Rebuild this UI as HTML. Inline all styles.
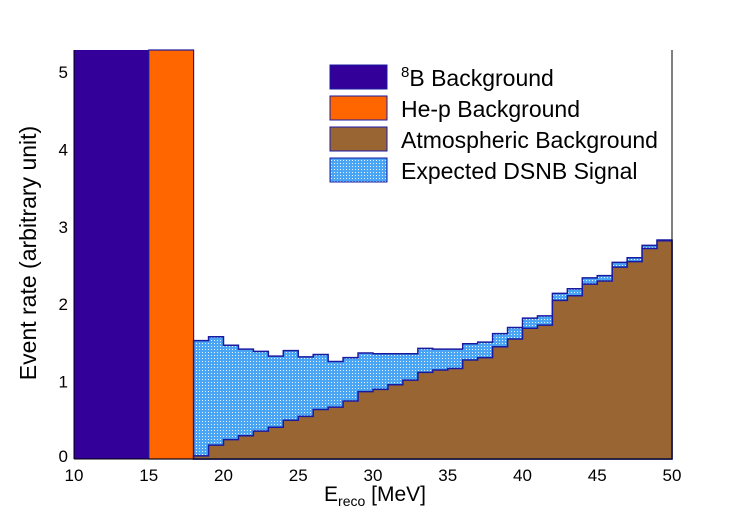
<!DOCTYPE html>
<html><head><meta charset="utf-8"><style>
body{margin:0;background:#fff;}
svg text{font-family:"Liberation Sans",sans-serif;}
</style></head><body>
<svg id="c" width="747" height="510">
<defs>
<pattern id="dots" width="3" height="3" patternUnits="userSpaceOnUse">
<rect width="3" height="3" fill="#4aa6f5"/><rect x="1" y="1" width="1" height="1" fill="#e8f4ff"/>
</pattern>
</defs>
</svg>
<script>
const binStart=18;
const signalTop=[1.53,1.58,1.47,1.42,1.39,1.33,1.40,1.32,1.35,1.26,1.31,1.37,1.36,1.36,1.36,1.43,1.42,1.42,1.49,1.51,1.62,1.70,1.82,1.85,2.14,2.20,2.34,2.37,2.54,2.60,2.76,2.83];
const atmos=[0.04,0.18,0.25,0.30,0.36,0.41,0.50,0.55,0.64,0.67,0.75,0.87,0.90,0.96,1.02,1.12,1.15,1.17,1.28,1.31,1.45,1.55,1.69,1.73,2.05,2.11,2.26,2.30,2.48,2.55,2.72,2.82];
const xTicks=[10,15,20,25,30,35,40,45,50];
const yTicks=[0,1,2,3,4,5];
const legendLabels=["B Background","He-p Background","Atmospheric Background","Expected DSNB Signal"];
const X0=74,X1=672,Y0=459,YT=50,xmin=10,xmax=50,ymax=5.285;
const sx=v=>X0+(v-xmin)/(xmax-xmin)*(X1-X0);
const sy=v=>Y0-v/ymax*(Y0-YT);
const NS="http://www.w3.org/2000/svg";
const svg=document.getElementById('c');
function mk(t,a,p){const e=document.createElementNS(NS,t);for(const k in a)e.setAttribute(k,a[k]);(p||svg).appendChild(e);return e;}
function stepPath(vals){let d=`M${sx(binStart)},${sy(0)}`;vals.forEach((v,i)=>{d+=` L${sx(binStart+i)},${sy(v)} L${sx(binStart+i+1)},${sy(v)}`;});d+=` L${sx(binStart+vals.length)},${sy(0)} Z`;return d;}
let e;
e=mk('rect',{x:sx(10),y:YT,width:sx(15)-sx(10),height:Y0-YT,fill:'#330099'});

e=mk('rect',{x:sx(15),y:YT,width:sx(18)-sx(15),height:Y0-YT,fill:'#ff6600',stroke:'#1a1aa0','stroke-width':1.2});

e=mk('path',{d:stepPath(signalTop),fill:'url(#dots)',stroke:'#1a1aa0','stroke-width':1.5});

e=mk('path',{d:stepPath(atmos),fill:'#996633',stroke:'#1a1aa0','stroke-width':1.5});

e=mk('line',{x1:X0,y1:Y0,x2:X1,y2:Y0,stroke:'#000','stroke-width':1});

e=mk('line',{x1:X0,y1:Y0,x2:X0,y2:YT,stroke:'#000','stroke-width':1});

e=mk('line',{x1:X1,y1:Y0,x2:X1,y2:YT,stroke:'#000','stroke-width':1});

xTicks.forEach(t=>{e=mk('text',{x:sx(t),y:Y0+22,'font-size':17,'text-anchor':'middle'});e.textContent=t;
});
yTicks.forEach(t=>{e=mk('text',{x:X0-6,y:sy(t)+(t===0?3:6),'font-size':17,'text-anchor':'end'});e.textContent=t;
});
e=mk('text',{x:375,y:501,'font-size':21,'text-anchor':'middle'});
e.innerHTML='E<tspan font-size="14" dy="5">reco</tspan><tspan dy="-5"> [MeV]</tspan>';

e=mk('text',{x:0,y:0,'font-size':23,'text-anchor':'middle',transform:'translate(36,253) rotate(-90)'});
e.textContent='Event rate (arbitrary unit)';

const lg=mk('g',{});
const fills=['#330099','#ff6600','#996633','url(#dots)'];
legendLabels.forEach((l,i)=>{const y=65+i*31;
e=mk('rect',{x:330,y:y,width:57,height:24,fill:fills[i],stroke:'#1a1aa0','stroke-width':1},lg);

e=mk('text',{x:401,y:y+21,'font-size':23},lg);
if(i===0)e.innerHTML='<tspan font-size="15" dy="-9">8</tspan><tspan dy="9">'+l+'</tspan>';else e.textContent=l;
});
</script>
</body></html>
